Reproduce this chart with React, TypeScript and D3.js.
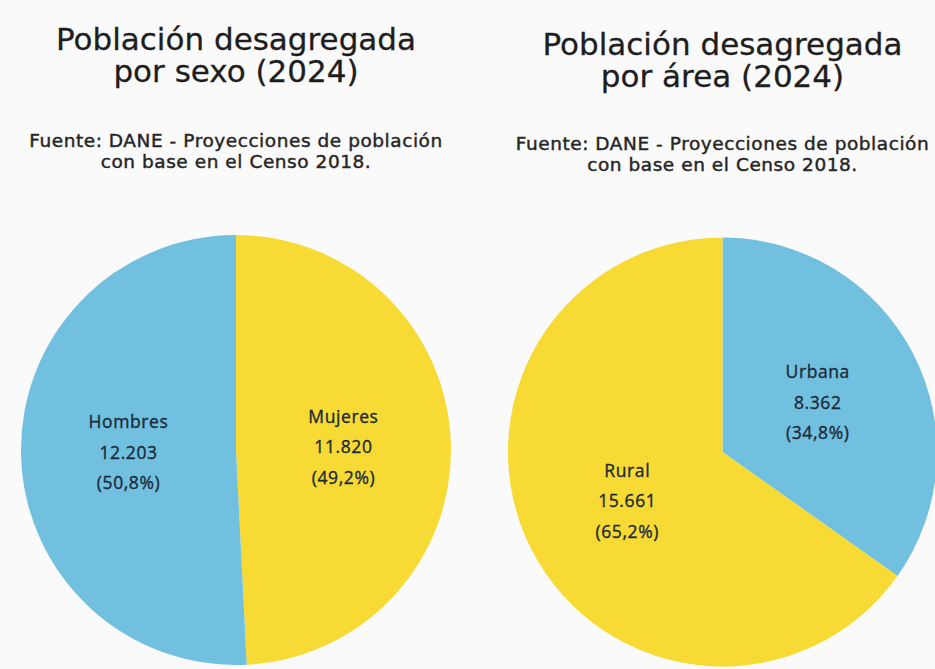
import React from "react";
import * as d3 from "d3";

const sexCategories = ["Mujeres", "Hombres"];
const sexValues = [11820, 12203];
const areaCategories = ["Urbana", "Rural"];
const areaValues = [8362, 15661];

const sexTitle = ["Población desagregada", "por sexo (2024)"];
const areaTitle = ["Población desagregada", "por área (2024)"];
const sourceLines = ["Fuente: DANE - Proyecciones de población", "con base en el Censo 2018."];

const BLUE = "#71c0df";
const YELLOW = "#f7db34";
const sexColors = [YELLOW, BLUE];
const areaColors = [BLUE, YELLOW];

const W = 935;
const H = 669;

const locale = d3.formatLocale({ decimal: ",", thousands: ".", grouping: [3], currency: ["$", ""] });
const fmtNum = locale.format(",d");
const fmtPct = locale.format(".1%");

type PieProps = {
  cats: string[];
  vals: number[];
  colors: string[];
  cx: number;
  cy: number;
  r: number;
  title: string[];
  titleY: number;
  subY: number;
};

function Pie({ cats, vals, colors, cx, cy, r, title, titleY, subY }: PieProps) {
  const total = d3.sum(vals);
  const pie = d3.pie<number>().sort(null).value((d) => d);
  const arcs = pie(vals);
  const arc = d3.arc<d3.PieArcDatum<number>>().innerRadius(0).outerRadius(r);
  return (
    <g>
      {title.map((t, i) => (
        <text
          key={"t" + i}
          x={cx}
          y={titleY + i * 32}
          textAnchor="middle"
          fontFamily="DejaVu Sans, Verdana, sans-serif"
          fontSize={31}
          fill="#1e1e1e"
          stroke="#1e1e1e"
          strokeWidth={0.3}
        >
          {t}
        </text>
      ))}
      {sourceLines.map((t, i) => (
        <text
          key={"s" + i}
          x={cx}
          y={subY + i * 21}
          textAnchor="middle"
          fontFamily="DejaVu Sans, Verdana, sans-serif"
          fontSize={18.5}
          letterSpacing={0.55}
          fill="#262626"
          stroke="#262626"
          strokeWidth={0.45}
        >
          {t}
        </text>
      ))}
      <g transform={`translate(${cx},${cy})`}>
        {arcs.map((a, i) => (
          <path key={"p" + i} d={arc(a) || ""} fill={colors[i]} />
        ))}
        {arcs.map((a, i) => {
          const [x, y] = arc.centroid(a);
          const lines = [cats[i], fmtNum(vals[i]), "(" + fmtPct(vals[i] / total) + ")"];
          return (
            <text
              key={"l" + i}
              x={x}
              y={y}
              textAnchor="middle"
              fontFamily="Open Sans, sans-serif"
              fontSize={17.5}
              fontWeight={500}
              letterSpacing={0.6}
              fill="#1c2a38"
              stroke="#1c2a38"
              strokeWidth={0.35}
            >
              {lines.map((l, j) => (
                <tspan key={j} x={x} y={y + (j - 1) * 30.5} dy="0.35em">
                  {l}
                </tspan>
              ))}
            </text>
          );
        })}
      </g>
    </g>
  );
}

export default function App() {
  return (
    <svg
      width={W}
      height={H}
      style={{ position: "absolute", left: 0, top: 0, display: "block" }}
    >
      <rect x={0} y={0} width={W} height={H} fill="#fafafa" />
      <Pie
        cats={sexCategories}
        vals={sexValues}
        colors={sexColors}
        cx={236}
        cy={450}
        r={215}
        title={sexTitle}
        titleY={50}
        subY={147}
      />
      <Pie
        cats={areaCategories}
        vals={areaValues}
        colors={areaColors}
        cx={722.5}
        cy={452}
        r={214.5}
        title={areaTitle}
        titleY={55}
        subY={150}
      />
    </svg>
  );
}
